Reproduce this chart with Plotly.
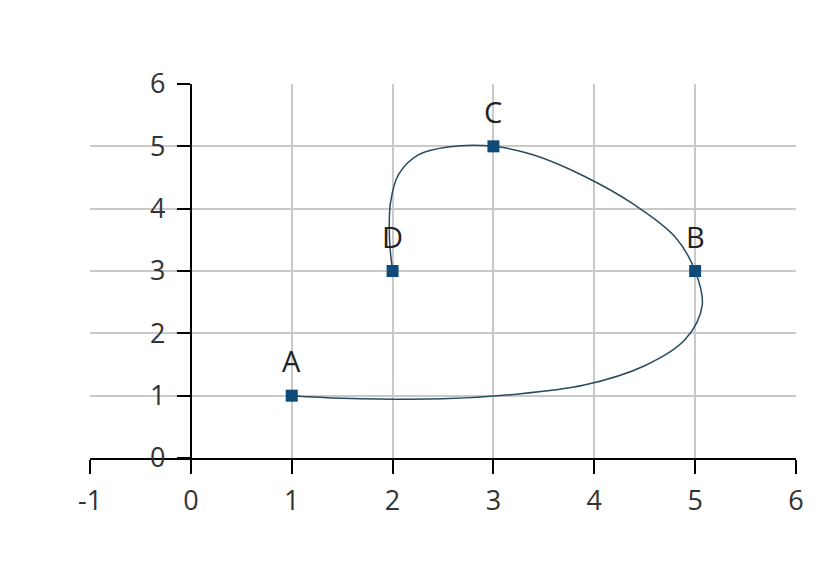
import plotly.graph_objects as go

# the four labelled points
x_vals = [1, 5, 3, 2]
y_vals = [1, 3, 5, 3]
point_labels = ["A", "B", "C", "D"]

# path of the smoothed line (A -> B -> C -> D)
curve_x = [1.00, 1.50, 2.50, 3.20, 3.90, 4.50, 4.90, 5.07, 5.00,
           4.80, 4.40, 3.90, 3.40, 3.00,
           2.55, 2.25, 2.06, 1.98, 1.97, 2.00]
curve_y = [1.00, 0.96, 0.95, 1.02, 1.17, 1.48, 1.90, 2.45, 3.00,
           3.55, 4.06, 4.52, 4.86, 5.00,
           4.99, 4.86, 4.55, 4.10, 3.50, 3.00]

x_ticks = [-1, 0, 1, 2, 3, 4, 5, 6]
x_tick_labels = ["-1", "0", "1", "2", "3", "4", "5", "6"]
y_ticks = [0, 1, 2, 3, 4, 5, 6]

LINE_COLOR = "#274c5e"
MARKER_COLOR = "#0f4a78"
GRID_COLOR = "#c9c9c9"
FONT = "Open Sans, Noto Sans, sans-serif"

fig = go.Figure()
fig.add_trace(
    go.Scatter(
        x=curve_x,
        y=curve_y,
        mode="lines",
        line=dict(color=LINE_COLOR, width=1.5, shape="spline", smoothing=1),
        hoverinfo="skip",
        showlegend=False,
    )
)
fig.add_trace(
    go.Scatter(
        x=x_vals,
        y=y_vals,
        mode="markers",
        marker=dict(symbol="square", size=12, color=MARKER_COLOR),
        text=point_labels,
        cliponaxis=False,
        showlegend=False,
    )
)

for px_, py_, lbl in zip(x_vals, y_vals, point_labels):
    fig.add_annotation(
        x=px_, y=py_, text=lbl, showarrow=False, yshift=35,
        font=dict(family=FONT, size=29, color="#222"),
    )

axis_common = dict(
    showgrid=True,
    gridcolor=GRID_COLOR,
    gridwidth=1.5,
    zeroline=False,
    showline=True,
    linecolor="black",
    linewidth=2,
    ticks="outside",
    tickwidth=2,
    tickcolor="black",
    tickfont=dict(family=FONT, size=27, color="#333"),
)

fig.update_layout(
    width=831,
    height=566,
    margin=dict(l=82, r=43, t=76, b=116),
    paper_bgcolor="white",
    plot_bgcolor="white",
    font=dict(family=FONT, size=27, color="#333"),
    xaxis=dict(
        range=[-1, 6],
        tickvals=x_ticks,
        ticktext=x_tick_labels,
        ticklen=14,
        ticklabelstandoff=4,
        **axis_common,
    ),
    yaxis=dict(
        range=[0, 6],
        tickvals=y_ticks,
        anchor="free",
        position=1 / 7,
        ticklen=13,
        ticklabelstandoff=6,
        **axis_common,
    ),
)

fig.write_html("out.html")
